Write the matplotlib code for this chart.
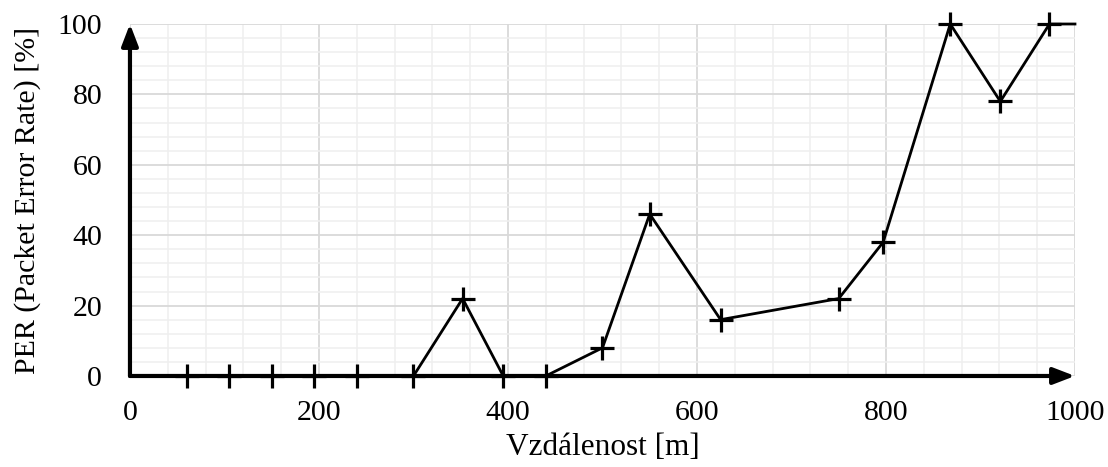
import matplotlib.pyplot as plt
from matplotlib.ticker import MultipleLocator

# measured distances [m] and packet error rate [%]
distance = [60, 105, 150, 195, 240, 300, 352, 395, 440, 500, 550, 625, 750, 797, 868, 921, 973, 1000]
per = [0, 0, 0, 0, 0, 0, 22, 0, 0, 8, 46, 16, 22, 38, 100, 78, 100, 100]

x_ticks = [0, 200, 400, 600, 800, 1000]
y_ticks = [0, 20, 40, 60, 80, 100]

plt.rcParams['font.family'] = ['Liberation Serif', 'DejaVu Serif']

fig = plt.figure(figsize=(11.08, 4.67), dpi=100)
ax = fig.add_axes([0.1173, 0.1949, 0.8529, 0.7537])

ax.set_xlim(0, 1000)
ax.set_ylim(0, 100)
ax.set_xticks(x_ticks)
ax.set_yticks(y_ticks)
ax.xaxis.set_minor_locator(MultipleLocator(40))
ax.yaxis.set_minor_locator(MultipleLocator(4))

ax.grid(which='major', color='#d9d9d9', linewidth=1.3)
ax.grid(which='minor', color='#efefef', linewidth=1.1)
ax.set_axisbelow(True)

for s in ax.spines.values():
    s.set_visible(False)
ax.tick_params(which='both', length=0, labelsize=21.5)
ax.tick_params(axis='x', pad=17)
ax.tick_params(axis='y', pad=20)

# line with + markers (last point only closes the line to the edge)
ax.plot(distance, per, color='black', linewidth=2, marker='+', markersize=17,
        markeredgewidth=2.3, markevery=list(range(len(distance) - 1)),
        clip_on=False, zorder=3)

# arrow axes
arrow = dict(arrowstyle='-|>,head_length=1.3,head_width=0.5', color='black',
             linewidth=3, shrinkA=0, shrinkB=0)
ax.annotate('', xy=(1.0, 0), xytext=(0, 0), xycoords='axes fraction',
            arrowprops=arrow, annotation_clip=False, zorder=4)
ax.annotate('', xy=(0, 1.0), xytext=(0, 0), xycoords='axes fraction',
            arrowprops=arrow, annotation_clip=False, zorder=4)

ax.set_xlabel('Vzdálenost [m]', fontsize=22.5, labelpad=5)
ax.set_ylabel('PER (Packet Error Rate) [%]', fontsize=21.5, labelpad=12)

fig.savefig('out.png', dpi=100)
